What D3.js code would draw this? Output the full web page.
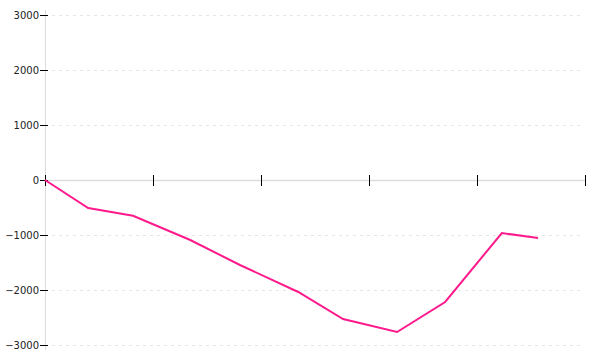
<!DOCTYPE html>
<html><head><meta charset="utf-8">
<script src="https://cdn.jsdelivr.net/npm/d3@7"></script>
<style>body{margin:0;background:#fff}svg{display:block}</style>
</head><body>
<svg id="c" width="600" height="360"></svg>
<script>
const xValues = [0, 8, 16.3, 26.9, 36.1, 46.9, 55.2, 65.2, 74.1, 84.6, 91.3];
const yValues = [0, -509, -650, -1091, -1545, -2036, -2527, -2764, -2218, -964, -1055];
const yTicks = [3000, 2000, 1000, 0, -1000, -2000, -3000];
const xTicks = [0, 20, 40, 60, 80, 100];

const svg = d3.select('#c');
const x = d3.scaleLinear().domain([0, 100]).range([45, 585]);
const y = d3.scaleLinear().domain([-3000, 3000]).range([345, 15]);

// gridlines
svg.append('g').selectAll('line').data(yTicks.filter(d => d !== 0)).join('line')
  .attr('x1', 52).attr('x2', 584)
  .attr('y1', d => y(d) + 0.5).attr('y2', d => y(d) + 0.5)
  .attr('stroke', '#e6e6e6').attr('stroke-dasharray', '3,4');

// y axis line
svg.append('line').attr('x1', 45.5).attr('x2', 45.5).attr('y1', 10).attr('y2', 350)
  .attr('stroke', '#ddd');
// x axis line
svg.append('line').attr('x1', 45).attr('x2', 585).attr('y1', y(0) + 0.5).attr('y2', y(0) + 0.5)
  .attr('stroke', '#ddd').attr('stroke-width', 1.5);

// y ticks & labels
const yg = svg.append('g');
yg.selectAll('line').data(yTicks).join('line')
  .attr('x1', 40).attr('x2', 48)
  .attr('y1', d => y(d) + 0.5).attr('y2', d => y(d) + 0.5)
  .attr('stroke', '#000');
yg.selectAll('text').data(yTicks).join('text')
  .attr('x', 39).attr('y', d => y(d))
  .attr('dy', '0.35em').attr('text-anchor', 'end')
  .attr('font-family', 'DejaVu Sans, sans-serif').attr('font-size', 10)
  .attr('fill', '#222')
  .text(d => d < 0 ? '\u2212' + Math.abs(d) : d);

// x ticks
svg.append('g').selectAll('line').data(xTicks).join('line')
  .attr('x1', d => x(d) + 0.5).attr('x2', d => x(d) + 0.5)
  .attr('y1', y(0) - 5).attr('y2', y(0) + 6)
  .attr('stroke', '#000');

// line
const pts = xValues.map((v, i) => [v, yValues[i]]);
svg.append('path').datum(pts)
  .attr('d', d3.line().x(d => x(d[0])).y(d => y(d[1])))
  .attr('fill', 'none').attr('stroke', '#ff1a8c').attr('stroke-width', 2);
</script>
</body></html>
